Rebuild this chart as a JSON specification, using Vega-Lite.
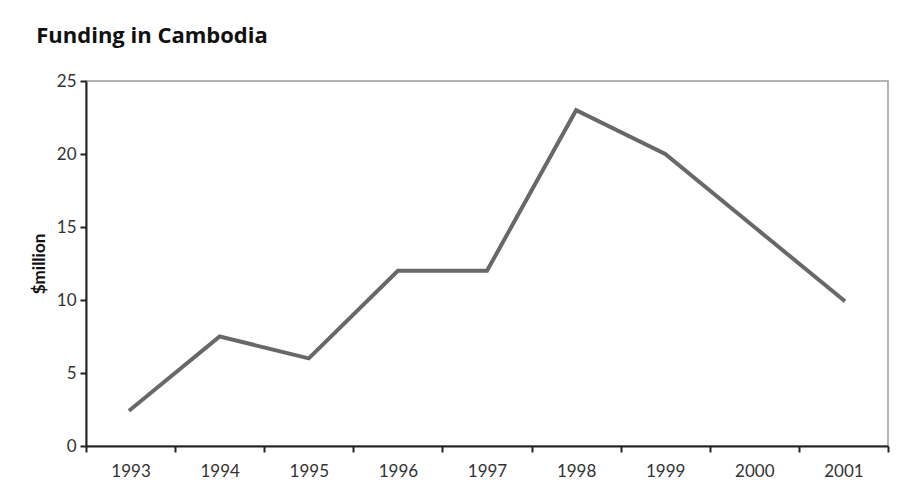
{
  "$schema": "https://vega.github.io/schema/vega-lite/v6.json",
  "autosize": {"type": "fit", "contains": "padding"},
  "width": 919,
  "height": 499,
  "padding": {"left": 30, "right": 30, "top": 25, "bottom": 20},
  "background": "white",
  "title": {
    "text": "Funding in Cambodia",
    "anchor": "start",
    "frame": "bounds",
    "font": "Open Sans",
    "fontSize": 22,
    "fontWeight": "bold",
    "color": "#111111",
    "dx": 6,
    "offset": 24
  },
  "data": {
    "values": [
      {"year": "1993", "funding": 2.5},
      {"year": "1994", "funding": 7.5},
      {"year": "1995", "funding": 6},
      {"year": "1996", "funding": 12},
      {"year": "1997", "funding": 12},
      {"year": "1998", "funding": 23},
      {"year": "1999", "funding": 20},
      {"year": "2000", "funding": 15},
      {"year": "2001", "funding": 10}
    ]
  },
  "mark": {"type": "line", "color": "#686868", "strokeWidth": 4, "strokeCap": "square"},
  "encoding": {
    "x": {
      "field": "year",
      "type": "ordinal",
      "bandPosition": 0.5,
      "scale": {"type": "band", "paddingInner": 0, "paddingOuter": 0},
      "axis": {
        "title": null,
        "labelAngle": 0,
        "tickBand": "extent",
        "tickSize": 6,
        "labelPadding": 11
      }
    },
    "y": {
      "field": "funding",
      "type": "quantitative",
      "scale": {"domain": [0, 25], "nice": false},
      "axis": {
        "title": "$million",
        "values": [0, 5, 10, 15, 20, 25],
        "grid": false,
        "tickSize": 6,
        "labelPadding": 4,
        "titlePadding": 8,
        "titleFont": "Lato",
        "titleFontWeight": "bold",
        "titleFontSize": 17,
        "titleColor": "#111111"
      }
    }
  },
  "config": {
    "view": {"stroke": "#9a9a9a", "strokeWidth": 1.5},
    "axis": {
      "domainColor": "#222222",
      "domainWidth": 2,
      "tickColor": "#222222",
      "tickWidth": 2,
      "labelFont": "Lato",
      "labelFontSize": 17,
      "labelColor": "#333333"
    }
  }
}
